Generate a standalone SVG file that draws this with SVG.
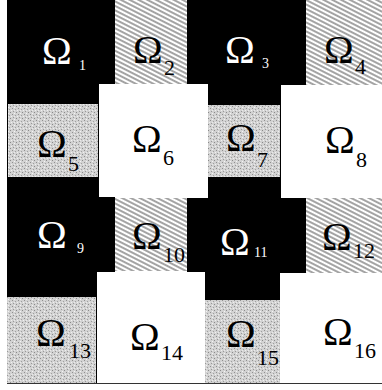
<svg xmlns="http://www.w3.org/2000/svg" width="382" height="390" viewBox="0 0 382 390">
<defs>
<pattern id="hatch" patternUnits="userSpaceOnUse" width="8" height="4" patternTransform="rotate(27)">
<rect width="8" height="4" fill="#ffffff"/>
<line x1="0" y1="1" x2="8" y2="1" stroke="#333" stroke-width="0.9"/>
</pattern>
<pattern id="stipple" patternUnits="userSpaceOnUse" width="6" height="6">
<rect width="6" height="6" fill="#d2d2d2"/>
<rect x="0" y="0" width="1" height="1" fill="#8f8f8f"/>
<rect x="3" y="1" width="1" height="1" fill="#a0a0a0"/>
<rect x="1" y="3" width="1" height="1" fill="#999"/>
<rect x="4" y="4" width="1" height="1" fill="#8a8a8a"/>
<rect x="5" y="2" width="1" height="1" fill="#f0f0f0"/>
<rect x="2" y="5" width="1" height="1" fill="#f4f4f4"/>
<rect x="2" y="2" width="1" height="1" fill="#eaeaea"/>
</pattern>
</defs>
<style>
.blk{fill:#000}
.wht{fill:#fff}
.hat{fill:url(#hatch)}
.gry{fill:url(#stipple)}
.om{font-family:"Liberation Serif","Times New Roman",serif;font-size:40px}
.sb{font-family:"Liberation Serif","Times New Roman",serif;font-size:22px}
.ss{font-family:"Liberation Serif","Times New Roman",serif;font-size:14px}
.tw{fill:#fff}
.tb{fill:#000}
</style>
<rect width="382" height="390" fill="#fff"/>
<g id="n1">
<path class="blk" d="M7,0H115V84H99V198H7Z"/>
<text class="om tw" x="42" y="64">Ω</text><text class="ss tw" x="79" y="70">1</text>
</g>
<g id="n2">
<rect class="hat" x="115" y="0" width="72" height="84"/>
<text class="om tb" x="133" y="63">Ω</text><text class="sb tb" x="164" y="75">2</text>
</g>
<g id="n3">
<path class="blk" d="M187,0H306V85H281V198H208V84H187Z"/>
<text class="om tw" x="225" y="63">Ω</text><text class="ss tw" x="262" y="68">3</text>
</g>
<g id="n4">
<rect class="hat" x="306" y="0" width="76" height="85"/>
<text class="om tb" x="324" y="63">Ω</text><text class="sb tb" x="355" y="74">4</text>
</g>
<g id="n5">
<rect class="gry" x="8" y="104" width="90" height="73"/>
<text class="om tb" x="37" y="157">Ω</text><text class="sb tb" x="68" y="171">5</text>
</g>
<g id="n6">
<rect class="wht" x="99" y="84" width="109" height="113"/>
<text class="om tb" x="132" y="152">Ω</text><text class="sb tb" x="163" y="165">6</text>
</g>
<g id="n7">
<rect class="gry" x="208" y="105" width="72" height="72"/>
<text class="om tb" x="226" y="151">Ω</text><text class="sb tb" x="257" y="167">7</text>
</g>
<g id="n8">
<rect class="wht" x="281" y="85" width="101" height="113"/>
<text class="om tb" x="325" y="153">Ω</text><text class="sb tb" x="356" y="167">8</text>
</g>
<g id="n9">
<path class="blk" d="M7,197H115V272H97V383H7Z"/>
<text class="om tw" x="37" y="248">Ω</text><text class="ss tw" x="77" y="253">9</text>
</g>
<g id="n10">
<rect class="hat" x="115" y="198" width="72" height="73"/>
<text class="om tb" x="132" y="249">Ω</text><text class="sb tb" x="163" y="262">10</text>
</g>
<g id="n11">
<path class="blk" d="M187,198H306V273H280V383H205V273H187Z"/>
<text class="om tw" x="220" y="255">Ω</text><text class="ss tw" x="254" y="257">11</text>
</g>
<g id="n12">
<rect class="hat" x="306" y="198" width="76" height="75"/>
<text class="om tb" x="322" y="250">Ω</text><text class="sb tb" x="353" y="258">12</text>
</g>
<g id="n13">
<rect class="gry" x="7" y="297" width="89" height="86"/>
<text class="om tb" x="36" y="346">Ω</text><text class="sb tb" x="69" y="358">13</text>
</g>
<g id="n14">
<rect class="wht" x="97" y="272" width="108" height="111"/>
<text class="om tb" x="130" y="350">Ω</text><text class="sb tb" x="161" y="360">14</text>
</g>
<g id="n15">
<rect class="gry" x="205" y="300" width="75" height="83"/>
<text class="om tb" x="226" y="347">Ω</text><text class="sb tb" x="257" y="365">15</text>
</g>
<g id="n16">
<rect class="wht" x="280" y="273" width="102" height="110"/>
<text class="om tb" x="323" y="345">Ω</text><text class="sb tb" x="354" y="358">16</text>
</g>
<g id="connectors">
<line x1="7" y1="383.5" x2="382" y2="383.5" stroke="#333" stroke-width="1"/>
</g>
</svg>
